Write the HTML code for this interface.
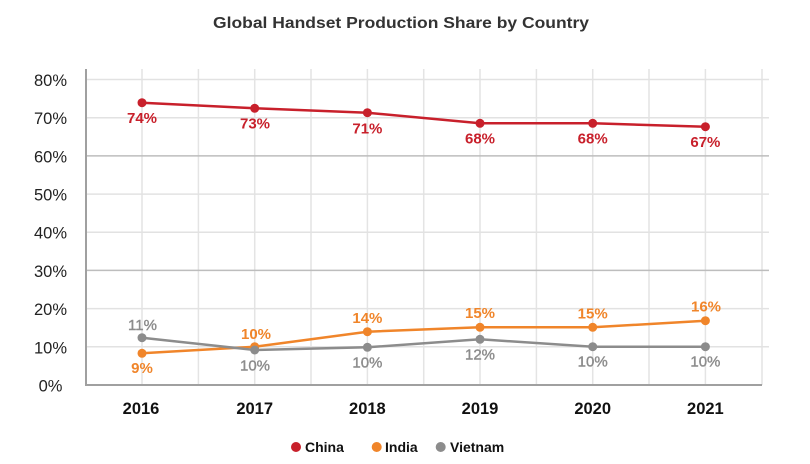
<!DOCTYPE html>
<html>
<head>
<meta charset="utf-8">
<style>
html,body{margin:0;padding:0;background:#fff;}
svg{display:block;}
</style>
</head>
<body>
<svg width="810" height="464" viewBox="0 0 810 464" xmlns="http://www.w3.org/2000/svg">
  <rect width="810" height="464" fill="#fff"/>
  <!-- title -->
  <text x="401" y="28" text-anchor="middle" font-family="Liberation Sans, sans-serif" font-weight="bold" font-size="16" fill="#333" textLength="376" lengthAdjust="spacingAndGlyphs">Global Handset Production Share by Country</text>

  <!-- vertical gridlines -->
  <g stroke="#e4e4e4" stroke-width="1.5">
    <line x1="142" y1="69" x2="142" y2="385"/>
    <line x1="198.4" y1="69" x2="198.4" y2="385"/>
    <line x1="254.7" y1="69" x2="254.7" y2="385"/>
    <line x1="311" y1="69" x2="311" y2="385"/>
    <line x1="367.4" y1="69" x2="367.4" y2="385"/>
    <line x1="423.7" y1="69" x2="423.7" y2="385"/>
    <line x1="480" y1="69" x2="480" y2="385"/>
    <line x1="536.4" y1="69" x2="536.4" y2="385"/>
    <line x1="592.7" y1="69" x2="592.7" y2="385"/>
    <line x1="649" y1="69" x2="649" y2="385"/>
    <line x1="705.4" y1="69" x2="705.4" y2="385"/>
    <line x1="762" y1="69" x2="762" y2="385"/>
  </g>
  <!-- horizontal gridlines -->
  <g stroke="#e2e2e2" stroke-width="1.5">
    <line x1="86" y1="79.5" x2="769" y2="79.5"/>
    <line x1="86" y1="117.7" x2="769" y2="117.7"/>
    <line x1="86" y1="194.1" x2="769" y2="194.1"/>
    <line x1="86" y1="232.2" x2="769" y2="232.2"/>
    <line x1="86" y1="308.6" x2="769" y2="308.6"/>
    <line x1="86" y1="346.8" x2="769" y2="346.8"/>
  </g>
  <g stroke="#bdbdbd" stroke-width="1.5">
    <line x1="86" y1="155.9" x2="769" y2="155.9"/>
    <line x1="86" y1="270.4" x2="769" y2="270.4"/>
  </g>
  <!-- axes -->
  <line x1="86" y1="69" x2="86" y2="386" stroke="#a0a0a0" stroke-width="2"/>
  <line x1="85" y1="385" x2="762" y2="385" stroke="#a0a0a0" stroke-width="2"/>

  <!-- y labels -->
  <g font-family="Liberation Sans, sans-serif" font-size="16.5" fill="#222" text-anchor="middle">
    <text x="50.5" y="86">80%</text>
    <text x="50.5" y="124.2">70%</text>
    <text x="50.5" y="162.4">60%</text>
    <text x="50.5" y="200.6">50%</text>
    <text x="50.5" y="238.7">40%</text>
    <text x="50.5" y="276.9">30%</text>
    <text x="50.5" y="315.1">20%</text>
    <text x="50.5" y="353.3">10%</text>
    <text x="50.5" y="391.5">0%</text>
  </g>
  <!-- x labels -->
  <g font-family="Liberation Sans, sans-serif" font-size="16.5" font-weight="bold" fill="#111" text-anchor="middle">
    <text x="141" y="414">2016</text>
    <text x="254.7" y="414">2017</text>
    <text x="367.4" y="414">2018</text>
    <text x="480" y="414">2019</text>
    <text x="592.7" y="414">2020</text>
    <text x="705.4" y="414">2021</text>
  </g>

  <!-- China -->
  <polyline fill="none" stroke="#c8202b" stroke-width="2.5" points="142,102.7 254.7,108.3 367.4,112.7 480,123.3 592.7,123.3 705.4,126.7"/>
  <g fill="#c8202b">
    <circle cx="142" cy="102.7" r="4.5"/>
    <circle cx="254.7" cy="108.3" r="4.5"/>
    <circle cx="367.4" cy="112.7" r="4.5"/>
    <circle cx="480" cy="123.3" r="4.5"/>
    <circle cx="592.7" cy="123.3" r="4.5"/>
    <circle cx="705.4" cy="126.7" r="4.5"/>
  </g>
  <g font-family="Liberation Sans, sans-serif" font-size="15" font-weight="bold" fill="#c8202b" text-anchor="middle">
    <text x="142" y="123">74%</text>
    <text x="255" y="128.5">73%</text>
    <text x="367.4" y="133.3">71%</text>
    <text x="480" y="143.3">68%</text>
    <text x="592.7" y="143.3">68%</text>
    <text x="705.4" y="147">67%</text>
  </g>

  <!-- India -->
  <polyline fill="none" stroke="#f0852a" stroke-width="2.5" points="142,353.3 254.7,346.7 367.4,331.7 480,327.3 592.7,327.3 705.4,320.7"/>
  <g fill="#f0852a">
    <circle cx="142" cy="353.3" r="4.5"/>
    <circle cx="254.7" cy="346.7" r="4.5"/>
    <circle cx="367.4" cy="331.7" r="4.5"/>
    <circle cx="480" cy="327.3" r="4.5"/>
    <circle cx="592.7" cy="327.3" r="4.5"/>
    <circle cx="705.4" cy="320.7" r="4.5"/>
  </g>
  <g font-family="Liberation Sans, sans-serif" font-size="15" font-weight="bold" fill="#f0852a" text-anchor="middle">
    <text x="142" y="373">9%</text>
    <text x="256" y="339">10%</text>
    <text x="367.4" y="323">14%</text>
    <text x="480" y="318">15%</text>
    <text x="592.7" y="318.3">15%</text>
    <text x="706" y="311.7">16%</text>
  </g>

  <!-- Vietnam -->
  <polyline fill="none" stroke="#8c8c8c" stroke-width="2.5" points="142,337.7 254.7,350 367.4,347.3 480,339.3 592.7,346.7 705.4,346.7"/>
  <g fill="#8c8c8c">
    <circle cx="142" cy="337.7" r="4.5"/>
    <circle cx="254.7" cy="350" r="4.5"/>
    <circle cx="367.4" cy="347.3" r="4.5"/>
    <circle cx="480" cy="339.3" r="4.5"/>
    <circle cx="592.7" cy="346.7" r="4.5"/>
    <circle cx="705.4" cy="346.7" r="4.5"/>
  </g>
  <g font-family="Liberation Sans, sans-serif" font-size="15" fill="#8c8c8c" stroke="#8c8c8c" stroke-width="0.4" text-anchor="middle">
    <text x="142.5" y="330">11%</text>
    <text x="255" y="370.7">10%</text>
    <text x="367.4" y="367.3">10%</text>
    <text x="480" y="359.3">12%</text>
    <text x="592.7" y="366.7">10%</text>
    <text x="705.4" y="366.7">10%</text>
  </g>

  <!-- legend -->
  <circle cx="296" cy="447" r="5" fill="#c8202b"/>
  <circle cx="376.7" cy="447" r="5" fill="#f0852a"/>
  <circle cx="440.7" cy="447" r="5" fill="#8c8c8c"/>
  <g font-family="Liberation Sans, sans-serif" font-size="14" font-weight="bold" fill="#111">
    <text x="305" y="452">China</text>
    <text x="385" y="452">India</text>
    <text x="450" y="452">Vietnam</text>
  </g>
</svg>
</body>
</html>
